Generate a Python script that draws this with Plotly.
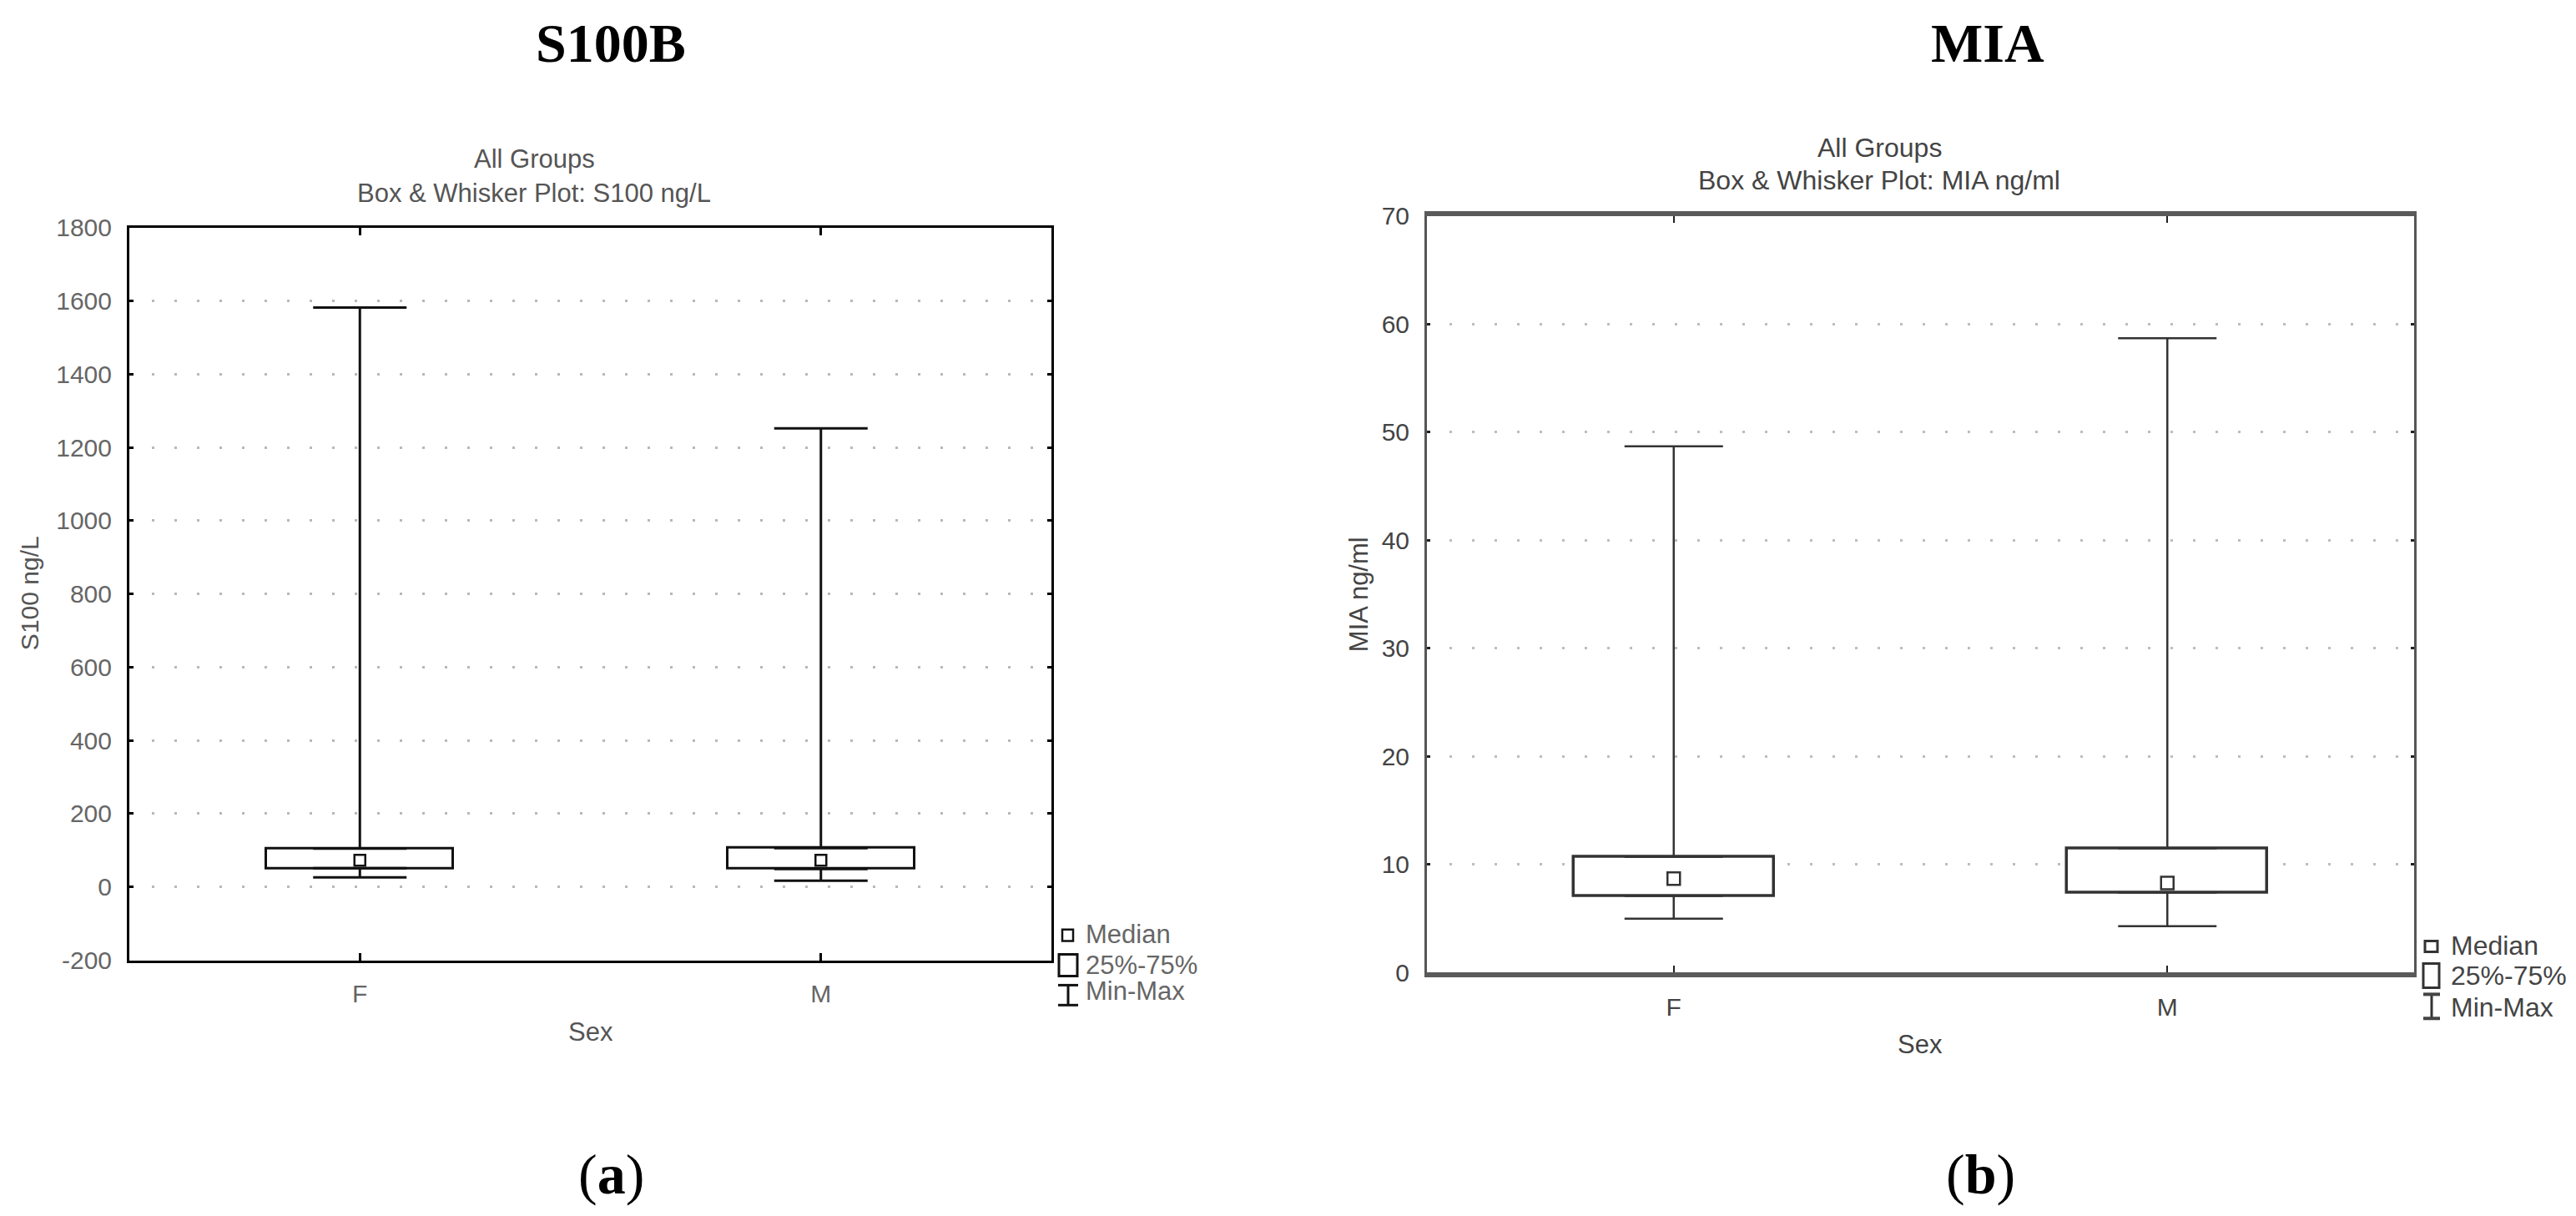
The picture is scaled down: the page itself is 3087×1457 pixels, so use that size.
import plotly.graph_objects as go

# ---------------- data ----------------
categories = ["F", "M"]

s100_min = [26, 17]
s100_q1 = [51, 49]
s100_median = [73, 73]
s100_q3 = [105, 106]
s100_max = [1582, 1252]

mia_min = [5.0, 4.3]
mia_q1 = [7.1, 7.4]
mia_median = [8.7, 8.3]
mia_q3 = [10.7, 11.5]
mia_max = [48.7, 58.7]

s100_ticks = [-200, 0, 200, 400, 600, 800, 1000, 1200, 1400, 1600, 1800]
s100_tick_labels = ["-200", "0", "200", "400", "600", "800", "1000", "1200", "1400", "1600", "1800"]
mia_ticks = [0, 10, 20, 30, 40, 50, 60, 70]
mia_tick_labels = ["0", "10", "20", "30", "40", "50", "60", "70"]

legend_labels = ["Median", "25%-75%", "Min-Max"]

# ---------------- layout helpers ----------------
W, H, OFF = 3071, 1441, 8
YA, YB = 0.98, 13.5   # empirical vertical calibration of the rendered page


def px(x):
    return (x - OFF) / W


def py(y):
    yi = (y - YB) / YA
    return 1 - (yi - OFF) / H


SANS = "Liberation Sans, Arial, sans-serif"
SERIF = "Liberation Serif, Times New Roman, serif"

fig = go.Figure()


def add_panel(xa, ya, q1, med, q3, lo, hi, line_col, box_lw, whisk_th, cap_hw, med_size):
    fig.add_trace(go.Bar(
        x=categories, base=q1, y=[b - a for a, b in zip(q1, q3)], width=0.405,
        marker=dict(color="white", line=dict(color=line_col, width=box_lw)),
        xaxis=xa, yaxis=ya, showlegend=False, hoverinfo="skip"))
    fig.add_trace(go.Scatter(
        x=categories, y=q3, mode="markers",
        marker=dict(size=1, color="rgba(0,0,0,0)"),
        error_y=dict(type="data", symmetric=False,
                     array=[m - b for m, b in zip(hi, q3)], arrayminus=[0, 0],
                     width=cap_hw, thickness=whisk_th, color=line_col),
        xaxis=xa, yaxis=ya, showlegend=False, hoverinfo="skip"))
    fig.add_trace(go.Scatter(
        x=categories, y=q1, mode="markers",
        marker=dict(size=1, color="rgba(0,0,0,0)"),
        error_y=dict(type="data", symmetric=False,
                     array=[0, 0], arrayminus=[a - m for a, m in zip(q1, lo)],
                     width=cap_hw, thickness=whisk_th, color=line_col),
        xaxis=xa, yaxis=ya, showlegend=False, hoverinfo="skip"))
    fig.add_trace(go.Scatter(
        x=categories, y=med, mode="markers",
        marker=dict(symbol="square-open", size=med_size, color=line_col, line=dict(width=2.5)),
        xaxis=xa, yaxis=ya, showlegend=False, hoverinfo="skip"))


add_panel("x", "y", s100_q1, s100_median, s100_q3, s100_min, s100_max, "#111111", 3, 3, 56, 13)
add_panel("x2", "y2", mia_q1, mia_median, mia_q3, mia_min, mia_max, "#333333", 3.5, 2.5, 59, 15)

grid_dash = "3px,24px"

fig.update_layout(
    width=W, height=H, autosize=False,
    margin=dict(l=0, r=0, t=0, b=0, pad=0),
    paper_bgcolor="white", plot_bgcolor="white",
    showlegend=False, bargap=0,
    xaxis=dict(domain=[px(155), px(1260)], anchor="y", range=[-0.5, 1.5],
               showline=True, linecolor="black", linewidth=3, mirror="allticks",
               ticks="inside", ticklen=9, tickwidth=3, tickcolor="black",
               tickfont=dict(family=SANS, size=30, color="#666666"),
               ticklabelstandoff=11, showgrid=False, zeroline=False, fixedrange=True),
    yaxis=dict(domain=[py(1151), py(270)], anchor="x", range=[-200, 1800],
               tickmode="array", tickvals=s100_ticks, ticktext=s100_tick_labels,
               showline=True, linecolor="black", linewidth=3, mirror="allticks",
               ticks="inside", ticklen=5, tickwidth=3, tickcolor="black",
               tickfont=dict(family=SANS, size=30, color="#666666"),
               ticklabelstandoff=12,
               showgrid=True, gridcolor="#b8b8b8", gridwidth=2.5, griddash=grid_dash,
               zeroline=False, fixedrange=True),
    xaxis2=dict(domain=[px(1710), px(2893)], anchor="y2", range=[-0.5, 1.5],
                showline=True, linecolor="#5a5a5a", linewidth=6, mirror="allticks",
                ticks="inside", ticklen=8, tickwidth=2, tickcolor="#222222",
                tickfont=dict(family=SANS, size=30, color="#444444"),
                ticklabelstandoff=10, showgrid=False, zeroline=False, fixedrange=True),
    yaxis2=dict(domain=[py(1166), py(256)], anchor="x2", range=[0, 70],
                tickmode="array", tickvals=mia_ticks, ticktext=mia_tick_labels,
                showline=True, linecolor="#555555", linewidth=3, mirror="allticks",
                ticks="inside", ticklen=4, tickwidth=3, tickcolor="#222222",
                tickfont=dict(family=SANS, size=30, color="#444444"),
                ticklabelstandoff=12,
                showgrid=True, gridcolor="#bdbdbd", gridwidth=2.5, griddash=grid_dash,
                zeroline=False, fixedrange=True),
)

annotations = []


def ann(text, x, y, size, color, family=SANS, angle=0):
    annotations.append(dict(text=text, x=px(x), y=py(y), xref="paper", yref="paper",
                            xanchor="center", yanchor="middle", showarrow=False,
                            textangle=angle, font=dict(family=family, size=size, color=color)))


def heading(text, x):
    # compact text box pinned to the top edge so the heading is not clipped
    annotations.append(dict(text=text, x=px(x), y=1, xref="paper", yref="paper",
                            xanchor="center", yanchor="top", showarrow=False,
                            height=50, valign="middle", borderpad=0,
                            font=dict(family=SERIF, size=66, color="black")))


# panel headings
heading("<b>S100B</b>", 732)
heading("<b>MIA</b>", 2382)
ann("(<b>a</b>)", 732, 1408, 68, "black", SERIF)
ann("(<b>b</b>)", 2373, 1408, 68, "black", SERIF)

# chart titles
ann("All Groups", 640, 187, 31, "#555555")
ann("Box & Whisker Plot: S100 ng/L", 640, 229, 31, "#555555")
ann("All Groups", 2252, 174, 32, "#444444")
ann("Box & Whisker Plot: MIA ng/ml", 2252, 213, 32, "#444444")

# axis titles
ann("S100 ng/L", 35, 710, 30, "#555555", angle=-90)
ann("MIA ng/ml", 1628, 711, 31, "#444444", angle=-90)
ann("Sex", 708, 1237, 31, "#555555")
ann("Sex", 2301, 1252, 31, "#444444")

# legend text
for lbl, yy in zip(legend_labels, [1120, 1157, 1188]):
    annotations.append(dict(text=lbl, x=px(1299), y=py(yy), xref="paper", yref="paper",
                            xanchor="left", yanchor="middle", showarrow=False,
                            font=dict(family=SANS, size=31, color="#666666")))
for lbl, yy in zip(legend_labels, [1133, 1170, 1208]):
    annotations.append(dict(text=lbl, x=px(2935), y=py(yy), xref="paper", yref="paper",
                            xanchor="left", yanchor="middle", showarrow=False,
                            font=dict(family=SANS, size=32, color="#444444")))

fig.update_layout(annotations=annotations)

# legend glyphs (decorative keys)
shapes = []


def rect(x0, y0, x1, y1, col, w):
    shapes.append(dict(type="rect", xref="paper", yref="paper", x0=px(x0), x1=px(x1),
                       y0=py(y1), y1=py(y0), line=dict(color=col, width=w), fillcolor="white"))


def seg(x0, y0, x1, y1, col, w):
    shapes.append(dict(type="line", xref="paper", yref="paper", x0=px(x0), x1=px(x1),
                       y0=py(y0), y1=py(y1), line=dict(color=col, width=w)))


# left key
rect(1273, 1114, 1286, 1128, "#111111", 2.5)
rect(1269, 1144, 1291, 1170, "#111111", 3)
seg(1280, 1181, 1280, 1205, "#111111", 3)
seg(1268, 1181, 1292, 1181, "#111111", 3)
seg(1268, 1205, 1292, 1205, "#111111", 3)
# right key
rect(2906, 1128, 2921, 1141, "#333333", 3)
rect(2904, 1155, 2923, 1184, "#333333", 3)
seg(2914, 1192, 2914, 1221, "#333333", 3)
seg(2904, 1192, 2924, 1192, "#444444", 4)
seg(2904, 1221, 2924, 1221, "#444444", 4)

fig.update_layout(shapes=shapes)

fig.write_html("out.html")
